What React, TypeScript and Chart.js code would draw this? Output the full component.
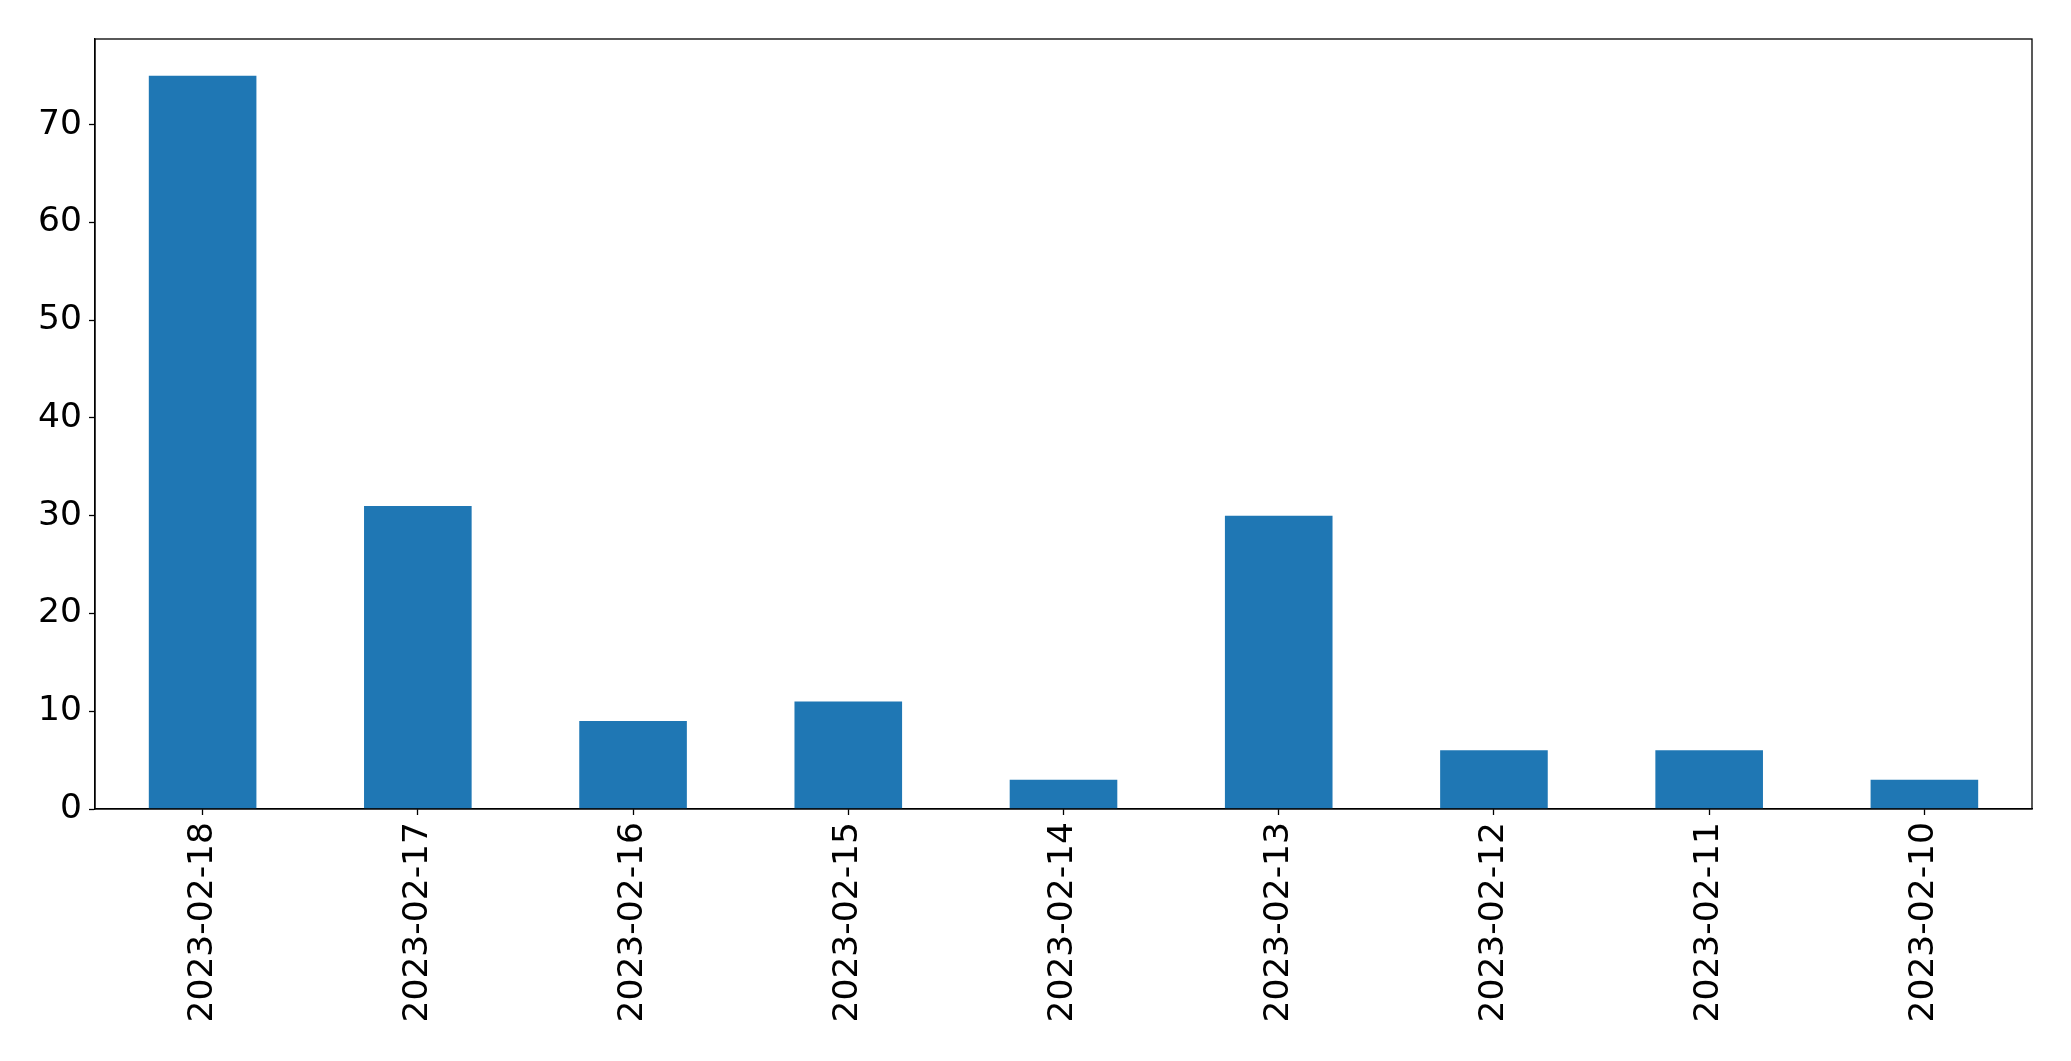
import React, { useEffect, useRef } from "react";
import { Chart, registerables } from "chart.js";

Chart.register(...registerables);

const categories = [
  "2023-02-18",
  "2023-02-17",
  "2023-02-16",
  "2023-02-15",
  "2023-02-14",
  "2023-02-13",
  "2023-02-12",
  "2023-02-11",
  "2023-02-10",
];
const counts = [75, 31, 9, 11, 3, 30, 6, 6, 3];
const yTicks = [0, 10, 20, 30, 40, 50, 60, 70];

const W = 2071;
const H = 1061;
const FONT = "'DejaVu Sans', sans-serif";

const frame = {
  id: "frame",
  afterDraw(chart: any) {
    const { ctx, chartArea } = chart;
    ctx.save();
    ctx.strokeStyle = "#000";
    ctx.lineWidth = 1.3;
    ctx.strokeRect(
      chartArea.left,
      chartArea.top,
      chartArea.right - chartArea.left,
      chartArea.bottom - chartArea.top
    );
    ctx.restore();
  },
};

export default function App() {
  const ref = useRef<HTMLCanvasElement | null>(null);
  useEffect(() => {
    document.body.style.margin = "0";
    const maxV = Math.max(...counts) * 1.05;
    const chart = new Chart(ref.current as HTMLCanvasElement, {
      type: "bar",
      data: {
        labels: categories,
        datasets: [
          {
            data: counts,
            backgroundColor: "#1f77b4",
            borderWidth: 0,
            categoryPercentage: 1,
            barPercentage: 0.5,
          },
        ],
      },
      options: {
        animation: false,
        responsive: false,
        devicePixelRatio: 1,
        layout: { padding: { top: 39, right: 39, left: 0, bottom: 0 } },
        plugins: { legend: { display: false }, tooltip: { enabled: false } },
        scales: {
          x: {
            offset: true,
            grid: {
              display: true,
              offset: false,
              drawOnChartArea: false,
              drawTicks: true,
              tickLength: 6,
              tickWidth: 1.3,
              tickColor: "#000",
            },
            border: { display: true, color: "#000", width: 1.3 },
            ticks: {
              color: "#000",
              font: { family: FONT, size: 34.5 },
              minRotation: 90,
              maxRotation: 90,
              autoSkip: false,
              padding: 7,
            },
            afterFit: (s: any) => {
              s.height = 252;
            },
          },
          y: {
            min: 0,
            max: maxV,
            grid: {
              display: true,
              drawOnChartArea: false,
              drawTicks: true,
              tickLength: 6,
              tickWidth: 1.3,
              tickColor: "#000",
            },
            border: { display: true, color: "#000", width: 1.3 },
            ticks: {
              color: "#000",
              font: { family: FONT, size: 34.5 },
              stepSize: 10,
              padding: 7,
            },
            afterBuildTicks: (s: any) => {
              s.ticks = yTicks.map((v) => ({ value: v }));
            },
            afterFit: (s: any) => {
              s.width = 95;
            },
          },
        },
      },
      plugins: [frame],
    });
    return () => chart.destroy();
  }, []);
  return (
    <div style={{ position: "fixed", left: 0, top: 0, width: W, height: H, background: "#fff" }}>
      <canvas ref={ref} width={W} height={H} style={{ width: W, height: H, display: "block" }} />
    </div>
  );
}
